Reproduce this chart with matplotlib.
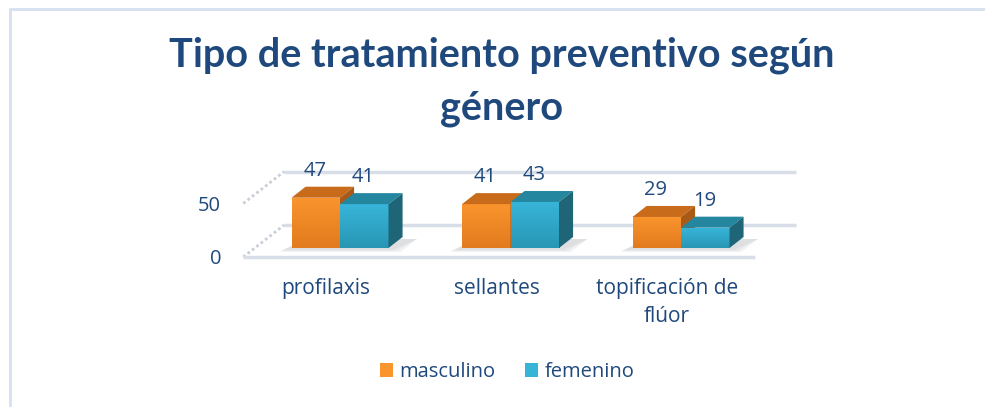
import numpy as np
import matplotlib.pyplot as plt
from matplotlib.patches import Polygon, Rectangle
from matplotlib.colors import LinearSegmentedColormap
from matplotlib.transforms import ScaledTranslation

categories = ['profilaxis', 'sellantes', 'topificación de\nflúor']
masculino = [47, 41, 29]
femenino = [41, 43, 19]
y_ticks = [0, 50]
series_names = ['masculino', 'femenino']
title = 'Tipo de tratamiento preventivo según\ngénero'

text_col = '#1F497D'
orange = {'front': ('#E27B1E', '#FA942D'), 'top': '#C86C1C', 'side': '#A95A17'}
teal = {'front': ('#2996B4', '#37B5D9'), 'top': '#25879F', 'side': '#1E6677'}
grid_col = '#D8DEE8'

plt.rcParams['font.family'] = ['Open Sans', 'DejaVu Sans']

W, H = 985, 407
fig = plt.figure(figsize=(W / 100, H / 100), dpi=100)

# front plane of the bars, in pixels
x0_px, base_px = 340, 248
cat_px, val_px = 170.5, 1.07
ax = fig.add_axes([(x0_px - 0.5 * cat_px) / W, (H - base_px) / H,
                   3 * cat_px / W, 50 * val_px / H])
ax.patch.set_visible(False)
for s in ax.spines.values():
    s.set_visible(False)


def depth(x, y, k):
    # move a point k pixels back into the chart (up and to the right)
    return x + 1.28 * k / cat_px, y + k / val_px


def px_shift(dx, dy):
    return ScaledTranslation(dx / 100, dy / 100, fig.dpi_scale_trans)


# walls: back gridlines, side wall lines, front floor edge
k_back, k_front = 23, -9
for v in y_ticks:
    a = depth(-0.5, v, k_back)
    b = depth(2.5, v, k_back)
    ax.plot([a[0], b[0]], [a[1], b[1]], color=grid_col, lw=2.5, clip_on=False,
            solid_capstyle='butt', zorder=1)
    c = depth(-0.5, v, k_front)
    ax.plot([c[0], a[0]], [c[1], a[1]], color='#C9CED8', lw=2, ls=(0, (1, 1)),
            clip_on=False, zorder=1)
a = depth(-0.5, 0, k_front)
b = depth(2.5, 0, k_front)
ax.plot([a[0], b[0]], [a[1], b[1]], color=grid_col, lw=2.5, clip_on=False,
        solid_capstyle='butt', zorder=1)

x = np.arange(len(categories))
w = 48.5 / cat_px
k_bar = 11

# soft shadows on the floor under each pair of bars
for xi in x:
    l, r = xi - w - 0.04, xi + w + 0.1
    for j, k in enumerate([-4, -3, -2]):
        shadow = [depth(l, 0, k), depth(r - 0.03 * j, 0, k),
                  depth(r, 0, k_bar - 2), depth(l + 0.06, 0, k_bar - 2)]
        ax.add_patch(Polygon(shadow, closed=True, color='#9AA0A8', alpha=0.12,
                             lw=0, clip_on=False, zorder=2))

handles = []
for z, (vals, offs, cols) in enumerate([(masculino, -w / 2, orange),
                                        (femenino, w / 2, teal)]):
    z0 = 3 + z
    bars = ax.bar(x + offs, vals, w, color=cols['front'][1], clip_on=False, zorder=z0)
    handles.append(bars)
    cmap = LinearSegmentedColormap.from_list('g', cols['front'])
    for patch, xi, h in zip(bars, x + offs, vals):
        l, r = xi - w / 2, xi + w / 2
        img = ax.imshow(np.linspace(0, 1, 64).reshape(-1, 1), cmap=cmap, origin='lower',
                        extent=(l, r, 0, h), aspect='auto', zorder=z0 + 0.1)
        img.set_clip_path(patch)
        top = [(l, h), (r, h), depth(r, h, k_bar), depth(l, h, k_bar)]
        side = [(r, 0), (r, h), depth(r, h, k_bar), depth(r, 0, k_bar)]
        ax.add_patch(Polygon(top, closed=True, color=cols['top'], lw=0,
                             clip_on=False, zorder=z0 + 0.2))
        ax.add_patch(Polygon(side, closed=True, color=cols['side'], lw=0,
                             clip_on=False, zorder=z0 + 0.2))
        ax.annotate(str(h), (xi, h), xytext=(-1, 27), textcoords='offset pixels',
                    ha='center', va='center', fontsize=14.5, color=text_col,
                    annotation_clip=False, zorder=6)

ax.set_xlim(-0.5, 2.5)
ax.set_ylim(0, 50)

ax.set_yticks(y_ticks)
ax.tick_params(axis='y', length=0, pad=16, labelsize=14.5, labelcolor=text_col)
for lab in ax.get_yticklabels():
    lab.set_transform(lab.get_transform() + px_shift(-11.5, -9))

ax.set_xticks(x, categories)
ax.tick_params(axis='x', length=0, pad=15, labelsize=15, labelcolor=text_col)
for lab in ax.get_xticklabels():
    lab.set_transform(lab.get_transform() + px_shift(-14, -9))
    lab.set_linespacing(1.45)

fig.legend(handles, series_names, loc='center', bbox_to_anchor=(507 / W, 1 - 372 / H),
           ncol=2, frameon=False, fontsize=14.5, handlelength=0.65, handleheight=0.65,
           handletextpad=0.3, columnspacing=1.5, labelcolor=text_col)

fig.text(502 / W, 1 - 82 / H, title, ha='center', va='center', fontsize=28.5,
         weight='bold', color=text_col, linespacing=1.5, family=['Lato', 'DejaVu Sans'])

fig.patches.append(Rectangle((10 / W, -0.1), 1.2, 1.1 - 9 / H, transform=fig.transFigure,
                             fill=False, edgecolor='#D5E0F0', lw=2))

fig.savefig('out.png', dpi=100)
